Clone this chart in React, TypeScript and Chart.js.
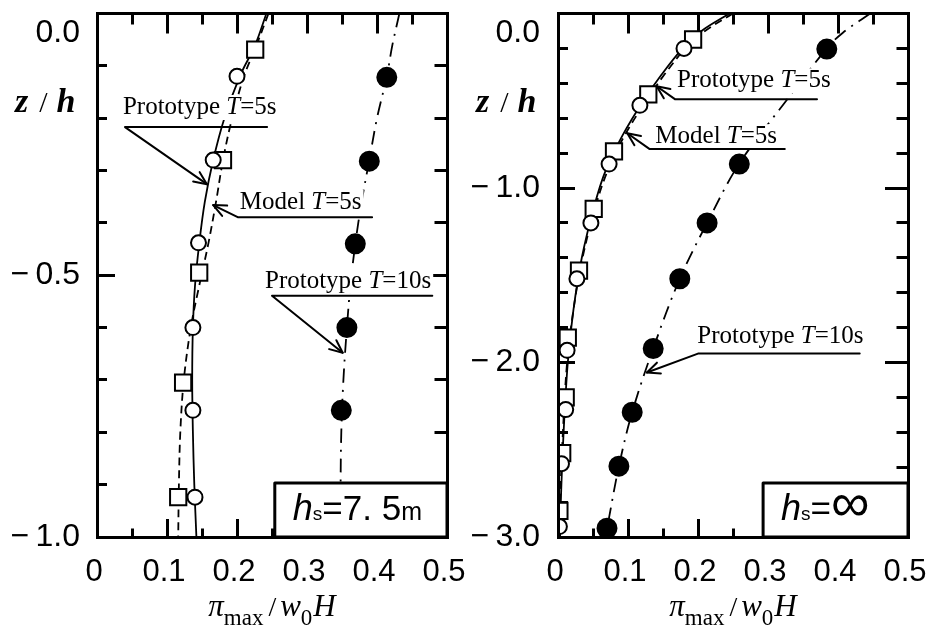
import React, { useEffect, useRef } from 'react';
import { Chart, registerables } from 'chart.js';

Chart.register(...registerables);

const SANS = '"Liberation Sans", Arial, Helvetica, sans-serif';
const SERIF = '"Liberation Serif", "Times New Roman", Times, serif';

// ================= DATA =================
// x: pi_max / (w0 H), y: z / h
const xLabelValues = [0, 0.1, 0.2, 0.3, 0.4, 0.5];
const xTickLabels = ['0', '0.1', '0.2', '0.3', '0.4', '0.5'];

// ---- left panel: h_s = 7.5 m ----
const leftYLabelValues = [0, -0.5, -1.0];
const leftYTickLabels = ['0.0', '\u2212\u20090.5', '\u2212\u20091.0'];

const leftProtoT5Z = [-0.12, -0.28, -0.438, -0.6, -0.758, -0.924];
const leftProtoT5P = [0.2, 0.166, 0.145, 0.137, 0.137, 0.14];
const leftModelT5Z = [-0.069, -0.28, -0.495, -0.705, -0.924];
const leftModelT5P = [0.226, 0.18, 0.146, 0.123, 0.116];
const leftProtoT10Z = [-0.122, -0.282, -0.44, -0.6, -0.758];
const leftProtoT10P = [0.414, 0.389, 0.369, 0.357, 0.349];

const leftCurveZ = [0, -0.06, -0.12, -0.2, -0.28, -0.36, -0.44, -0.52, -0.6, -0.7, -0.8, -0.9, -1.0];
const leftProtoT5Fit = [0.242, 0.226, 0.204, 0.182, 0.166, 0.154, 0.146, 0.14, 0.137, 0.136, 0.137, 0.139, 0.142];
const leftModelT5Fit = [0.245, 0.228, 0.21, 0.193, 0.18, 0.17, 0.159, 0.146, 0.134, 0.124, 0.119, 0.117, 0.116];
const leftProtoT10Fit = [0.432, 0.422, 0.414, 0.4, 0.389, 0.378, 0.369, 0.362, 0.357, 0.352, 0.349, 0.348, 0.348];

// ---- right panel: h_s = infinity ----
const rightYLabelValues = [0, -1, -2, -3];
const rightYTickLabels = ['0.0', '\u2212\u20091.0', '\u2212\u20092.0', '\u2212\u20093.0'];

const rightProtoT5Z = [-0.2, -0.526, -0.863, -1.2, -1.52, -1.93, -2.27, -2.58, -2.94];
const rightProtoT5P = [0.18, 0.117, 0.073, 0.047, 0.027, 0.013, 0.011, 0.005, 0.002];
const rightModelT5Z = [-0.149, -0.463, -0.79, -1.12, -1.474, -1.857, -2.2, -2.52, -2.85];
const rightModelT5P = [0.193, 0.129, 0.08, 0.051, 0.03, 0.014, 0.011, 0.006, 0.002];
const rightProtoT10Z = [-0.204, -0.863, -1.2, -1.52, -1.92, -2.285, -2.594, -2.95];
const rightProtoT10P = [0.384, 0.259, 0.213, 0.174, 0.136, 0.106, 0.087, 0.07];

const rightCurveZ = [0, -0.1, -0.2, -0.35, -0.5, -0.7, -0.9, -1.1, -1.4, -1.7, -2.0, -2.4, -2.8, -3.0];
const rightProtoT5Fit = [0.245, 0.205, 0.178, 0.148, 0.122, 0.092, 0.068, 0.052, 0.034, 0.022, 0.014, 0.008, 0.004, 0.003];
const rightModelT5Fit = [0.25, 0.21, 0.182, 0.152, 0.126, 0.095, 0.071, 0.054, 0.035, 0.022, 0.013, 0.007, 0.003, 0.002];
const rightT10CurveZ = [0, -0.11, -0.2, -0.5, -0.86, -1.2, -1.52, -1.92, -2.285, -2.594, -2.95, -3.0];
const rightProtoT10Fit = [0.446, 0.407, 0.384, 0.326, 0.259, 0.213, 0.174, 0.136, 0.106, 0.087, 0.07, 0.067];

// annotation texts
const noteNames = ['Prototype', 'Model', 'Prototype'];
const notePeriods = ['5s', '5s', '10s'];
const leftBoxText = ['h', 's', '=7. 5', 'm'];
const rightBoxText = ['h', 's', '=', '\u221E'];

// ================= LAYOUT (data-unit anchors for annotations) =================
const leftNoteLayout = [
  { tx: 0.037, ty: -0.192, ux1: 0.04, ux2: 0.243, uy: -0.217, ax: 0.157, ay: -0.326 },
  { tx: 0.204, ty: -0.373, ux1: 0.201, ux2: 0.393, uy: -0.389, ax: 0.166, ay: -0.366 },
  { tx: 0.24, ty: -0.524, ux1: 0.25, ux2: 0.479, uy: -0.539, ax: 0.351, ay: -0.648 },
];
const rightNoteLayout = [
  { tx: 0.17, ty: -0.423, ux1: 0.167, ux2: 0.37, uy: -0.491, ax: 0.141, ay: -0.417 },
  { tx: 0.139, ty: -0.743, ux1: 0.131, ux2: 0.324, uy: -0.777, ax: 0.099, ay: -0.686 },
  { tx: 0.199, ty: -1.891, ux1: 0.2, ux2: 0.431, uy: -1.949, ax: 0.127, ay: -2.057 },
];

// ================= helpers =================
function isMult(v: number, m: number) {
  const r = v / m;
  return Math.abs(r - Math.round(r)) < 1e-6;
}
function labelFor(values: number[], labels: string[], v: number) {
  const i = values.findIndex((t) => Math.abs(t - v) < 1e-6);
  return i >= 0 ? labels[i] : '';
}
function tickDash(major: number, longLen: number, shortLen: number, startsAtBorder: boolean) {
  return (c: any) => {
    const v = c && c.tick ? c.tick.value : 0;
    if (isMult(v, major)) return [];
    return startsAtBorder ? [shortLen + 1.5, 1000] : [0, longLen - shortLen, 1000, 0];
  };
}
function fixSize(size: number) {
  return (s: any) => {
    if (s.isHorizontal()) s.height = size;
    else s.width = size;
    s.paddingTop = 0;
    s.paddingBottom = 0;
    s.paddingLeft = 0;
    s.paddingRight = 0;
  };
}
const pts = (xs: number[], zs: number[]) => xs.map((x, i) => ({ x, y: zs[i] }));

type Part = { t: string; f: string; dy?: number; gap?: number };
function drawParts(ctx: CanvasRenderingContext2D, parts: Part[], x: number, y: number, center: boolean) {
  let total = 0;
  parts.forEach((p) => {
    ctx.font = p.f;
    total += ctx.measureText(p.t).width + (p.gap || 0);
  });
  let cx = center ? x - total / 2 : x;
  parts.forEach((p) => {
    ctx.font = p.f;
    cx += p.gap || 0;
    ctx.fillText(p.t, cx, y + (p.dy || 0));
    cx += ctx.measureText(p.t).width;
  });
  return total;
}

interface PanelCfg {
  zMin: number;
  yStep: number;
  yMajor: number;
  yLabelValues: number[];
  yLabels: string[];
  protoT5: { x: number; y: number }[];
  modelT5: { x: number; y: number }[];
  protoT10: { x: number; y: number }[];
  fitProtoT5: { x: number; y: number }[];
  fitModelT5: { x: number; y: number }[];
  fitProtoT10: { x: number; y: number }[];
  notes: typeof leftNoteLayout;
  boxX: number;
  boxZ: number;
  boxText: string[];
  isInf: boolean;
  leftW: number;
  rightW: number;
  yLeftLong: number;
  yLeftShort: number;
  yRightLong: number;
  yRightShort: number;
}

function makeExtras(p: PanelCfg) {
  return {
    id: 'extras',
    afterDraw(chart: any) {
      const { ctx, chartArea, scales } = chart;
      const px = (v: number) => scales.x.getPixelForValue(v);
      const py = (v: number) => scales.y.getPixelForValue(v);
      ctx.save();
      ctx.textBaseline = 'alphabetic';
      ctx.textAlign = 'left';
      // annotations
      p.notes.forEach((n, i) => {
        const parts: Part[] = [
          { t: noteNames[i] + ' ', f: `25px ${SERIF}` },
          { t: 'T', f: `italic 25px ${SERIF}` },
          { t: '=' + notePeriods[i], f: `25px ${SERIF}` },
        ];
        let w = 0;
        parts.forEach((q) => {
          ctx.font = q.f;
          w += ctx.measureText(q.t).width;
        });
        const tx = px(n.tx);
        const ty = py(n.ty);
        ctx.fillStyle = '#fff';
        ctx.fillRect(tx - 2, ty - 19, w + 4, 25);
        ctx.fillStyle = '#000';
        drawParts(ctx, parts, tx, ty, false);
        ctx.strokeStyle = '#000';
        ctx.lineWidth = 2;
        ctx.lineCap = 'round';
        ctx.lineJoin = 'round';
        const x1 = px(n.ux1), x2 = px(n.ux2), uy = py(n.uy), ax = px(n.ax), ay = py(n.ay);
        ctx.beginPath();
        ctx.moveTo(x2, uy);
        ctx.lineTo(x1, uy);
        ctx.lineTo(ax, ay);
        ctx.stroke();
        const ang = Math.atan2(ay - uy, ax - x1);
        const L = 14, sp = 0.42;
        ctx.beginPath();
        ctx.moveTo(ax - L * Math.cos(ang - sp), ay - L * Math.sin(ang - sp));
        ctx.lineTo(ax, ay);
        ctx.lineTo(ax - L * Math.cos(ang + sp), ay - L * Math.sin(ang + sp));
        ctx.stroke();
      });
      // h_s box
      const bx = px(p.boxX);
      const by = py(p.boxZ);
      ctx.fillStyle = '#fff';
      ctx.fillRect(bx, by, chartArea.right - bx, chartArea.bottom - by);
      ctx.strokeStyle = '#000';
      ctx.lineWidth = 3;
      ctx.lineCap = 'butt';
      ctx.strokeRect(bx, by, chartArea.right - bx, chartArea.bottom - by);
      ctx.fillStyle = '#000';
      const boxParts: Part[] = p.isInf
        ? [
            { t: p.boxText[0], f: `italic 36px ${SANS}` },
            { t: p.boxText[1], f: `19px ${SANS}` },
            { t: p.boxText[2], f: `35px ${SANS}` },
            { t: p.boxText[3], f: `54px ${SANS}`, dy: 1 },
          ]
        : [
            { t: p.boxText[0], f: `italic 36px ${SANS}` },
            { t: p.boxText[1], f: `19px ${SANS}` },
            { t: p.boxText[2], f: `35px ${SANS}` },
            { t: p.boxText[3], f: `25px ${SANS}` },
          ];
      drawParts(ctx, boxParts, bx + 18, chartArea.bottom - 17, false);
      // x-axis title
      const xt: Part[] = [
        { t: '\u03C0', f: `italic 31px ${SERIF}` },
        { t: 'max', f: `23px ${SERIF}`, dy: 9 },
        { t: '/', f: `28px ${SERIF}`, gap: 5 },
        { t: 'w', f: `italic 31px ${SERIF}`, gap: 4 },
        { t: '0', f: `23px ${SERIF}`, dy: 9 },
        { t: 'H', f: `italic 31px ${SERIF}`, gap: 1 },
      ];
      drawParts(ctx, xt, (chartArea.left + chartArea.right) / 2, chartArea.bottom + 79, true);
      // y-axis title
      const yt: Part[] = [
        { t: 'z', f: `italic bold 34px ${SERIF}` },
        { t: '/', f: `30px ${SERIF}`, gap: 11 },
        { t: 'h', f: `italic bold 34px ${SERIF}`, gap: 9 },
      ];
      drawParts(ctx, yt, chartArea.left - 82, chartArea.top + 98, false);
      ctx.restore();
    },
  };
}

function buildConfig(p: PanelCfg): any {
  const border = { display: true, width: 3, color: '#000', z: 1 };
  const grid = (len: number, dash: any) => ({
    display: true,
    drawOnChartArea: false,
    drawTicks: true,
    tickLength: -len,
    tickWidth: 3,
    tickColor: '#000',
    tickBorderDash: dash,
  });
  const marker = (style: string, r: number, fill: string) => ({
    showLine: false,
    pointStyle: style,
    pointRadius: r,
    pointHoverRadius: r,
    pointBorderWidth: 2,
    pointBorderColor: '#000',
    pointBackgroundColor: fill,
    borderColor: '#000',
    backgroundColor: fill,
  });
  const curve = (dash: number[]) => ({
    showLine: true,
    pointRadius: 0,
    pointHoverRadius: 0,
    borderColor: '#000',
    borderWidth: 1.8,
    borderDash: dash,
    tension: 0.35,
    fill: false,
  });
  return {
    type: 'scatter',
    data: {
      datasets: [
        { label: 'Prototype T=5s', data: p.protoT5, ...marker('circle', 7.5, '#fff') },
        { label: 'Model T=5s', data: p.modelT5, ...marker('rect', 11.5, '#fff') },
        { label: 'Prototype T=10s', data: p.protoT10, ...marker('circle', 9.5, '#000') },
        { label: 'Prototype T=5s fit', data: p.fitProtoT5, ...curve([]) },
        { label: 'Model T=5s fit', data: p.fitModelT5, ...curve([8, 5]) },
        { label: 'Prototype T=10s fit', data: p.fitProtoT10, ...curve([14, 7, 2, 7]) },
      ],
    },
    options: {
      animation: false,
      responsive: false,
      devicePixelRatio: 1,
      events: [],
      layout: { padding: 0 },
      plugins: { legend: { display: false }, tooltip: { enabled: false }, title: { display: false } },
      scales: {
        x: {
          type: 'linear',
          position: 'bottom',
          min: 0,
          max: 0.5,
          border,
          grid: grid(18, tickDash(0.1, 18, 9, true)),
          ticks: {
            stepSize: 0.05,
            autoSkip: false,
            maxRotation: 0,
            minRotation: 0,
            padding: 35,
            labelOffset: -3,
            color: '#000',
            font: { family: SANS, size: 31 },
            callback: (v: number) => labelFor(xLabelValues, xTickLabels, v),
          },
          afterFit: fixSize(102),
        },
        x2: {
          type: 'linear',
          position: 'top',
          min: 0,
          max: 0.5,
          border,
          grid: grid(20, tickDash(0.1, 20, 11, false)),
          ticks: { display: false, stepSize: 0.05, autoSkip: false },
          afterFit: fixSize(12),
        },
        y: {
          type: 'linear',
          position: 'left',
          min: p.zMin,
          max: 0,
          border,
          grid: grid(p.yLeftLong, tickDash(p.yMajor, p.yLeftLong, p.yLeftShort, false)),
          ticks: {
            stepSize: p.yStep,
            autoSkip: false,
            padding: 35,
            color: '#000',
            font: { family: SANS, size: 32 },
            callback: (v: number) => {
              const s = labelFor(p.yLabelValues, p.yLabels, v);
              return Math.abs(v) < 1e-9 ? ['', s] : s;
            },
          },
          afterFit: fixSize(p.leftW),
        },
        y2: {
          type: 'linear',
          position: 'right',
          min: p.zMin,
          max: 0,
          border,
          grid: grid(p.yRightLong, tickDash(p.yMajor, p.yRightLong, p.yRightShort, true)),
          ticks: { display: false, stepSize: p.yStep, autoSkip: false },
          afterFit: fixSize(p.rightW),
        },
      },
    },
    plugins: [makeExtras(p)],
  };
}

const leftCfg: PanelCfg = {
  zMin: -1,
  yStep: 0.1,
  yMajor: 0.5,
  yLabelValues: leftYLabelValues,
  yLabels: leftYTickLabels,
  protoT5: pts(leftProtoT5P, leftProtoT5Z),
  modelT5: pts(leftModelT5P, leftModelT5Z),
  protoT10: pts(leftProtoT10P, leftProtoT10Z),
  fitProtoT5: pts(leftProtoT5Fit, leftCurveZ),
  fitModelT5: pts(leftModelT5Fit, leftCurveZ),
  fitProtoT10: pts(leftProtoT10Fit, leftCurveZ),
  notes: leftNoteLayout,
  boxX: 0.254,
  boxZ: -0.897,
  boxText: leftBoxText,
  isInf: false,
  leftW: 97,
  rightW: 23,
  yLeftLong: 18,
  yLeftShort: 10,
  yRightLong: 23,
  yRightShort: 13,
};

const rightCfg: PanelCfg = {
  zMin: -3,
  yStep: 0.2,
  yMajor: 1,
  yLabelValues: rightYLabelValues,
  yLabels: rightYTickLabels,
  protoT5: pts(rightProtoT5P, rightProtoT5Z),
  modelT5: pts(rightModelT5P, rightModelT5Z),
  protoT10: pts(rightProtoT10P, rightProtoT10Z),
  fitProtoT5: pts(rightProtoT5Fit, rightCurveZ),
  fitModelT5: pts(rightModelT5Fit, rightCurveZ),
  fitProtoT10: pts(rightProtoT10Fit, rightT10CurveZ),
  notes: rightNoteLayout,
  boxX: 0.293,
  boxZ: -2.691,
  boxText: rightBoxText,
  isInf: true,
  leftW: 98,
  rightW: 19,
  yLeftLong: 17,
  yLeftShort: 10,
  yRightLong: 23,
  yRightShort: 12,
};

function Panel({ cfg, left, width }: { cfg: PanelCfg; left: number; width: number }) {
  const ref = useRef<HTMLCanvasElement>(null);
  useEffect(() => {
    if (!ref.current) return;
    const chart = new Chart(ref.current, buildConfig(cfg));
    return () => chart.destroy();
  }, [cfg]);
  return (
    <canvas
      ref={ref}
      width={width}
      height={639}
      style={{ position: 'absolute', left, top: 0, width, height: 639, display: 'block' }}
    />
  );
}

export default function App() {
  return (
    <div style={{ position: 'absolute', left: 0, top: 0, width: 927, height: 639, background: '#fff', overflow: 'hidden' }}>
      <Panel cfg={leftCfg} left={0} width={470} />
      <Panel cfg={rightCfg} left={460} width={467} />
    </div>
  );
}
